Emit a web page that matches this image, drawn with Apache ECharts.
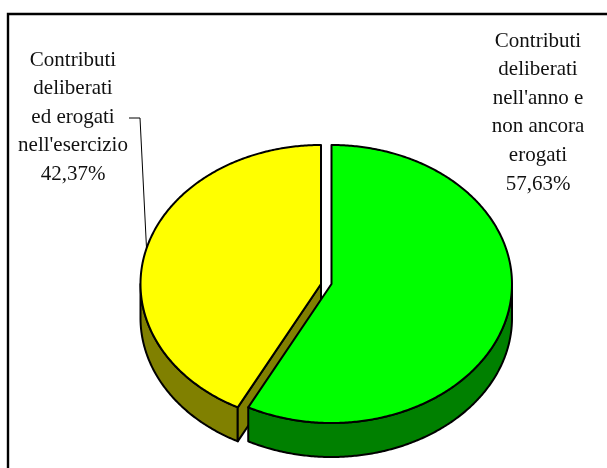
<!DOCTYPE html>
<html>
<head>
<meta charset="utf-8">
<style>
  html, body { margin: 0; padding: 0; background: #fff; }
  #chart { width: 607px; height: 468px; }
</style>
<script src="https://cdn.jsdelivr.net/npm/echarts@6/dist/echarts.min.js"></script>
</head>
<body>
<div id="chart"></div>
<script>
// slices, clockwise from 12 o'clock
const sliceNames = ['non ancora erogati', 'erogati']
const sliceValues = [57.63, 42.37]
const topColors = ['#00ff00', '#ffff00']
const sideColors = ['#008000', '#808000']
const labelLines = [
  ['Contributi', 'deliberati', "nell'anno e", 'non ancora', 'erogati', '57,63%'],
  ['Contributi', 'deliberati', 'ed erogati', "nell'esercizio", '42,37%']
]

// tilted pie geometry
const rx = 180.5
const ry = 139
const depth = 34
const centers = [[331.5, 284], [321, 284]]
const total = sliceValues.reduce((a, b) => a + b, 0)

const chart = echarts.init(document.getElementById('chart'), null, { renderer: 'canvas' })

// point on the ellipse, angle in radians clockwise from the top
const onEllipse = (c, a, dy = 0) => [c[0] + rx * Math.sin(a), c[1] - ry * Math.cos(a) + dy]

const arcPoints = (c, from, to, dy = 0) => {
  const pts = []
  const steps = Math.ceil(Math.abs(to - from) / 0.01)
  for (let i = 0; i <= steps; i++) {
    pts.push(onEllipse(c, from + (to - from) * i / steps, dy))
  }
  return pts
}

const lineStyle = (fill) => ({ fill, stroke: '#000', lineWidth: 2, lineJoin: 'round' })

const renderSlice = (params, api) => {
  const i = api.value(0)
  let before = 0
  for (let k = 0; k < i; k++) before += sliceValues[k]
  const start = before / total * Math.PI * 2
  const end = (before + api.value(1)) / total * Math.PI * 2
  const c = centers[i]
  const children = []

  // front wall: only the part of the rim facing the viewer (90deg to 270deg)
  const wallFrom = Math.max(start, Math.PI / 2)
  const wallTo = Math.min(end, Math.PI * 1.5)
  if (wallTo > wallFrom) {
    children.push({
      type: 'polygon',
      shape: { points: arcPoints(c, wallFrom, wallTo).concat(arcPoints(c, wallTo, wallFrom, depth)) },
      style: lineStyle(sideColors[i])
    })
  }
  // yellow slice shows its cut face through the gap
  if (i === 1) {
    const tip = onEllipse(c, start)
    children.push({
      type: 'polygon',
      shape: { points: [c, tip, [tip[0], tip[1] + depth], [c[0], c[1] + depth]] },
      style: lineStyle(sideColors[i])
    })
  }
  // top face
  children.push({
    type: 'polygon',
    shape: { points: [c].concat(arcPoints(c, start, end)) },
    style: lineStyle(topColors[i])
  })
  return { type: 'group', children }
}

const textStyle = {
  fontFamily: '"Liberation Serif", serif',
  fontSize: 21,
  fill: '#111',
  align: 'center',
  verticalAlign: 'middle'
}

const labelText = (lines, x, y0, step) => lines.map((t, i) => ({
  type: 'text',
  style: { ...textStyle, text: t, x, y: y0 + i * step },
  silent: true
}))

chart.setOption({
  animation: false,
  series: [{
    type: 'custom',
    coordinateSystem: 'none',
    // yellow first, the green slice sits over its cut face
    data: [[1, sliceValues[1], sliceNames[1]], [0, sliceValues[0], sliceNames[0]]],
    encode: { value: [1] },
    renderItem: renderSlice,
    z: 2
  }],
  graphic: [
    // frame: only the left and top edges fall inside the picture
    {
      type: 'polyline',
      shape: { points: [[8, 468], [8, 14], [607, 14]] },
      style: { fill: 'none', stroke: '#000', lineWidth: 2.4 },
      z: 0
    },
    // leader line for the yellow slice
    {
      type: 'polyline',
      shape: { points: [[129, 118], [140, 118], [146.5, 248]] },
      style: { fill: 'none', stroke: '#000', lineWidth: 1 },
      z: 1
    },
    ...labelText(labelLines[0], 538, 41, 28.6),
    ...labelText(labelLines[1], 73, 60.5, 28.4)
  ]
})
</script>
</body>
</html>
